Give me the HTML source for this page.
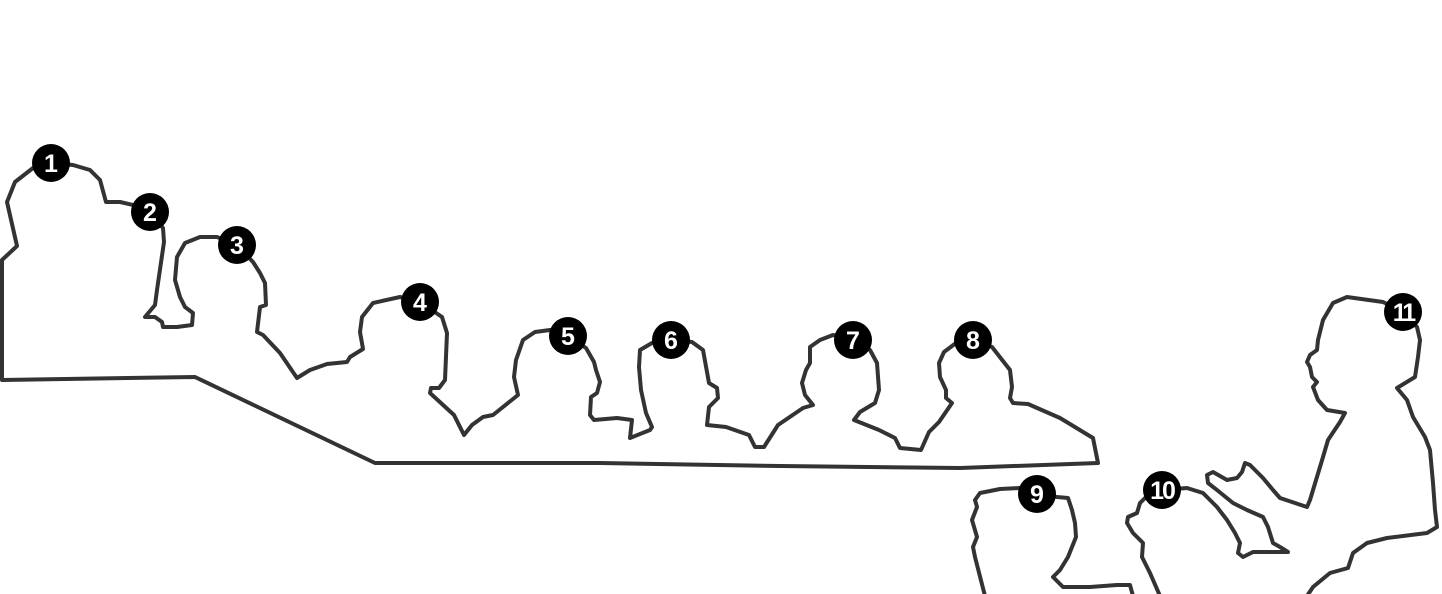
<!DOCTYPE html>
<html><head><meta charset="utf-8"><style>
html,body{margin:0;padding:0;background:#fff;}
svg{display:block;}
text{font-family:"Liberation Sans",sans-serif;font-weight:bold;font-size:25px;fill:#fff;text-anchor:middle;dominant-baseline:central;}
</style></head><body>
<svg width="1442" height="594" viewBox="0 0 1442 594" xmlns="http://www.w3.org/2000/svg">
<g fill="none" stroke="#333" stroke-width="4" stroke-linejoin="round" stroke-linecap="round">
<path d="M2,380 L2,260 L17,246 L7,202 L15,182 L33,168 L51,163 L73,165 L90,170 L100,180 L106,202 L120,202 L133,205 L150,212 L163,228 L164,242 L157,290 L155,305 L145,317 L155,317 L162,322 L163,327 L177,327 L192,325 L193,313 L185,307 L180,297 L175,280 L177,257 L185,243 L200,237 L217,237 L237,245 L253,262 L260,273 L265,283 L266,305 L260,307 L257,332 L263,335 L280,353 L297,378 L310,370 L327,364 L347,362 L350,357 L363,349 L360,332 L362,317 L373,303 L400,297 L420,302 L442,317 L447,333 L445,380 L439,388 L431,388 L430,393 L454,415 L464,435 L472,425 L483,417 L493,415 L518,395 L514,377 L516,360 L523,340 L535,332 L550,330 L568,336 L586,348 L594,362 L596,370 L600,382 L597,393 L591,397 L590,415 L594,420 L617,418 L632,420 L630,438 L650,430 L652,427 L646,413 L641,390 L639,367 L640,350 L652,343 L671,340 L692,342 L703,350 L709,383 L717,388 L718,398 L709,407 L707,425 L726,427 L749,435 L755,447 L764,447 L778,425 L803,408 L813,405 L805,395 L802,383 L806,370 L810,363 L810,347 L820,340 L833,335 L853,340 L870,350 L877,363 L879,390 L875,403 L860,412 L854,420 L879,430 L895,438 L900,448 L921,450 L929,432 L939,422 L952,403 L946,398 L946,390 L940,377 L939,363 L944,352 L956,343 L973,340 L992,347 L1010,370 L1012,387 L1010,398 L1013,403 L1028,404 L1060,418 L1093,438 L1098,463 L960,468 L780,466 L600,463 L375,463 L195,377 L2,380 Z"/>
<path d="M985,596 L975,557 L973,547 L977,537 L972,520 L977,507 L975,500 L980,493 L1000,489 L1020,488 L1037,494 L1057,497 L1068,498 L1072,510 L1075,523 L1076,537 L1068,557 L1060,570 L1053,577 L1063,587 L1090,587 L1117,585 L1130,585 L1133,596"/>
<path d="M1160,596 L1150,573 L1145,563 L1142,557 L1143,543 L1133,533 L1127,523 L1128,517 L1137,513 L1140,503 L1145,498 L1162,490 L1187,488 L1203,493 L1217,507 L1227,520 L1235,533 L1240,543 L1238,553 L1243,557 L1253,552 L1273,552 L1288,552 L1280,547 L1273,543 L1268,527 L1263,517 L1247,510 L1233,503 L1217,490 L1208,483 L1207,475 L1213,472 L1227,480 L1237,478 L1242,472 L1245,463 L1250,465 L1263,478 L1273,490 L1280,498 L1307,507 L1310,500 L1323,457 L1328,440 L1340,422 L1345,413 L1327,410 L1318,400 L1313,387 L1317,382 L1312,377 L1310,367 L1307,362 L1310,355 L1317,350 L1318,340 L1323,320 L1333,303 L1347,297 L1383,302 L1403,312 L1417,327 L1420,340 L1418,357 L1415,377 L1397,388 L1407,400 L1413,417 L1425,437 L1430,450 L1433,483 L1435,510 L1437,527 L1427,533 L1387,538 L1367,543 L1353,553 L1348,568 L1330,573 L1313,587 L1307,596"/>
</g>
<g>
<circle cx="51" cy="163" r="19"/><text x="51" y="164">1</text>
<circle cx="150" cy="212" r="19"/><text x="150" y="213">2</text>
<circle cx="237" cy="245" r="19"/><text x="237" y="246">3</text>
<circle cx="420" cy="302" r="19"/><text x="420" y="303">4</text>
<circle cx="568" cy="336" r="19"/><text x="568" y="337">5</text>
<circle cx="671" cy="340" r="19"/><text x="671" y="341">6</text>
<circle cx="853" cy="340" r="19"/><text x="853" y="341">7</text>
<circle cx="973" cy="340" r="19"/><text x="973" y="341">8</text>
<circle cx="1037" cy="494" r="19"/><text x="1037" y="495">9</text>
<circle cx="1162" cy="490" r="19"/><text x="1162" y="491" style="letter-spacing:-2px">10</text>
<circle cx="1403" cy="312" r="19"/><text x="1403" y="313" style="letter-spacing:-3px">11</text>
</g>
</svg>
</body></html>
